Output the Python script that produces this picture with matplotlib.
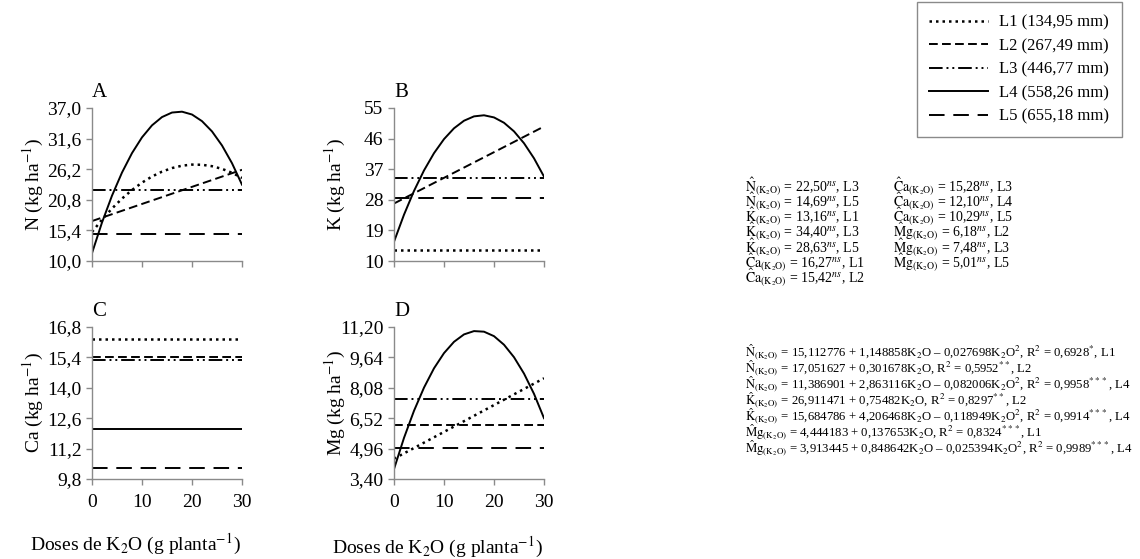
import numpy as np
import matplotlib
matplotlib.use('Agg')
import matplotlib.pyplot as plt

plt.rcParams['font.family'] = ['Liberation Serif', 'DejaVu Serif']
plt.rcParams['mathtext.fontset'] = 'stix'

# doses de K2O (g planta-1)
doses = [0, 2, 4, 6, 8, 10, 12, 14, 16, 18, 20, 22, 24, 26, 28, 30]
dose_ends = [0, 30]

# A - N
n_l1 = [15.11, 17.30, 19.26, 21.01, 22.53, 23.83, 24.91, 25.77, 26.40, 26.82,
        27.01, 26.98, 26.73, 26.26, 25.57, 24.65]
n_l2 = [17.05, 26.10]
n_l3 = [22.50, 22.50]
n_l4 = [11.39, 16.79, 21.53, 25.61, 29.04, 31.82, 33.94, 35.40, 36.20, 36.35,
        35.85, 34.68, 32.87, 30.39, 27.26, 23.47]
n_l5 = [14.69, 14.69]

# B - K
k_l1 = [13.16, 13.16]
k_l2 = [26.91, 49.56]
k_l3 = [34.40, 34.40]
k_l4 = [15.68, 23.62, 30.61, 36.64, 41.72, 45.85, 49.03, 51.26, 52.54, 52.86,
        52.23, 50.66, 48.13, 44.64, 40.21, 34.82]
k_l5 = [28.63, 28.63]

# C - Ca
ca_l1 = [16.27, 16.27]
ca_l2 = [15.42, 15.42]
ca_l3 = [15.28, 15.28]
ca_l4 = [12.10, 12.10]
ca_l5 = [10.29, 10.29]

# D - Mg
mg_l1 = [4.44, 8.57]
mg_l2 = [6.18, 6.18]
mg_l3 = [7.48, 7.48]
mg_l4 = [3.91, 5.51, 6.90, 8.09, 9.08, 9.86, 10.44, 10.82, 10.99, 10.96,
         10.73, 10.29, 9.65, 8.81, 7.77, 6.52]
mg_l5 = [5.01, 5.01]

legend_labels = ['L1 (134,95 mm)', 'L2 (267,49 mm)', 'L3 (446,77 mm)',
                 'L4 (558,26 mm)', 'L5 (655,18 mm)']

n_ticks = ['10,0', '15,4', '20,8', '26,2', '31,6', '37,0']
k_ticks = ['10', '19', '28', '37', '46', '55']
ca_ticks = ['9,8', '11,2', '12,6', '14,0', '15,4', '16,8']
mg_ticks = ['3,40', '4,96', '6,52', '8,08', '9,64', '11,20']

estilos = {
    'L1': dict(linestyle=(0, (1, 1.6)), linewidth=1.8),
    'L2': dict(linestyle=(0, (4.5, 2.2)), linewidth=1.4),
    'L3': dict(linestyle=(0, (7, 2, 1, 2, 1, 2)), linewidth=1.4),
    'L4': dict(linestyle='-', linewidth=1.4),
    'L5': dict(linestyle=(0, (8, 4.5)), linewidth=1.4),
}

W, H = 1140, 559
fig = plt.figure(figsize=(W / 100, H / 100), dpi=100)


def caixa(x0, y_top, x1, y_bot):
    return [x0 / W, 1 - y_bot / H, (x1 - x0) / W, (y_bot - y_top) / H]


axA = fig.add_axes(caixa(92, 108, 242, 261))
axB = fig.add_axes(caixa(394, 108, 544, 261))
axC = fig.add_axes(caixa(92, 327, 242, 479))
axD = fig.add_axes(caixa(394, 327, 544, 479))


def painel(ax, series, ticks, ylabel, letra, baixo):
    for nome, (x, y) in series.items():
        ax.plot(x, y, color='black', label=nome, **estilos[nome])
    vals = [float(t.replace(',', '.')) for t in ticks]
    ax.set_ylim(vals[0], vals[-1])
    ax.set_yticks(vals)
    ax.set_yticklabels(ticks)
    ax.set_xlim(0, 30)
    ax.set_xticks([0, 10, 20, 30])
    if not baixo:
        ax.set_xticklabels([])
    for s in ['top', 'right']:
        ax.spines[s].set_visible(False)
    for s in ['left', 'bottom']:
        ax.spines[s].set_color('#8a8a8a')
        ax.spines[s].set_linewidth(1.0)
    ax.tick_params(colors='#8a8a8a', labelcolor='black', labelsize=14,
                   length=4, width=1.0)
    ax.tick_params(axis='x', pad=7)
    ax.set_ylabel(ylabel, fontsize=14)
    ax.yaxis.set_label_coords(-0.31, 0.5)
    ax.text(0.0, 1.04, letra, transform=ax.transAxes, fontsize=15,
            ha='left', va='bottom')


painel(axA, {'L1': (doses, n_l1), 'L2': (dose_ends, n_l2), 'L3': (dose_ends, n_l3),
             'L4': (doses, n_l4), 'L5': (dose_ends, n_l5)},
       n_ticks, 'N (kg ha$^{-1}$)', 'A', False)
painel(axB, {'L1': (dose_ends, k_l1), 'L2': (dose_ends, k_l2), 'L3': (dose_ends, k_l3),
             'L4': (doses, k_l4), 'L5': (dose_ends, k_l5)},
       k_ticks, 'K (kg ha$^{-1}$)', 'B', False)
painel(axC, {'L1': (dose_ends, ca_l1), 'L2': (dose_ends, ca_l2), 'L3': (dose_ends, ca_l3),
             'L4': (dose_ends, ca_l4), 'L5': (dose_ends, ca_l5)},
       ca_ticks, 'Ca (kg ha$^{-1}$)', 'C', True)
painel(axD, {'L1': (dose_ends, mg_l1), 'L2': (dose_ends, mg_l2), 'L3': (dose_ends, mg_l3),
             'L4': (doses, mg_l4), 'L5': (dose_ends, mg_l5)},
       mg_ticks, 'Mg (kg ha$^{-1}$)', 'D', True)

axC.set_xlabel('Doses de K$_2$O (g planta$^{-1}$)', fontsize=14)
axC.xaxis.set_label_coords(0.29, -0.35)
axD.set_xlabel('Doses de K$_2$O (g planta$^{-1}$)', fontsize=14)
axD.xaxis.set_label_coords(0.29, -0.37)

# legenda
handles = axA.get_lines()
leg = fig.legend(handles, legend_labels, loc='upper left',
                 bbox_to_anchor=(917 / W, 1 - 2 / H), fontsize=12,
                 handlelength=3.5, handletextpad=0.7, labelspacing=0.45,
                 borderpad=0.75, borderaxespad=0.0,
                 fancybox=False, framealpha=1)
leg.get_frame().set_edgecolor('#8a8a8a')
leg.get_frame().set_linewidth(1.0)

# equacoes
sub = r'_{(\mathrm{K_2O})}'
Nh = r'$\hat{\mathrm{N}}' + sub + '$'
Kh = r'$\hat{\mathrm{K}}' + sub + '$'
Cah = r'$\hat{\mathrm{C}}\mathrm{a}' + sub + '$'
Mgh = r'$\hat{\mathrm{M}}\mathrm{g}' + sub + '$'
ns = r'$^{ns}$'

col1 = [Nh + ' = 22,50' + ns + ', L3',
        Nh + ' = 14,69' + ns + ', L5',
        Kh + ' = 13,16' + ns + ', L1',
        Kh + ' = 34,40' + ns + ', L3',
        Kh + ' = 28,63' + ns + ', L5',
        Cah + ' = 16,27' + ns + ', L1',
        Cah + ' = 15,42' + ns + ', L2']
col2 = [Cah + ' = 15,28' + ns + ', L3',
        Cah + ' = 12,10' + ns + ', L4',
        Cah + ' = 10,29' + ns + ', L5',
        Mgh + ' = 6,18' + ns + ', L2',
        Mgh + ' = 7,48' + ns + ', L3',
        Mgh + ' = 5,01' + ns + ', L5']
k2o = r'K$_2$O'
k2o2 = r'K$_2$O$^2$'
r2 = r'R$^2$'
col3 = [Nh + ' = 15,112776 + 1,148858' + k2o + ' \u2013 0,027698' + k2o2 + ', ' + r2 + ' = 0,6928$^{*}$, L1',
        Nh + ' = 17,051627 + 0,301678' + k2o + ', ' + r2 + ' = 0,5952$^{**}$, L2',
        Nh + ' = 11,386901 + 2,863116' + k2o + ' \u2013 0,082006' + k2o2 + ', ' + r2 + ' = 0,9958$^{***}$, L4',
        Kh + ' = 26,911471 + 0,75482' + k2o + ', ' + r2 + ' = 0,8297$^{**}$, L2',
        Kh + ' = 15,684786 + 4,206468' + k2o + ' \u2013 0,118949' + k2o2 + ', ' + r2 + ' = 0,9914$^{***}$, L4',
        Mgh + ' = 4,444183 + 0,137653' + k2o + ', ' + r2 + ' = 0,8324$^{***}$, L1',
        Mgh + ' = 3,913445 + 0,848642' + k2o + ' \u2013 0,025394' + k2o2 + ', ' + r2 + ' = 0,9989$^{***}$, L4']

for i, t in enumerate(col1):
    fig.text(745 / W, 1 - (186 + i * 15.2) / H, t, fontsize=10, va='center')
for i, t in enumerate(col2):
    fig.text(893 / W, 1 - (186 + i * 15.2) / H, t, fontsize=10, va='center')
for i, t in enumerate(col3):
    fig.text(745 / W, 1 - (352 + i * 16.1) / H, t, fontsize=9.2, va='center')

fig.savefig('out.png', dpi=100)
